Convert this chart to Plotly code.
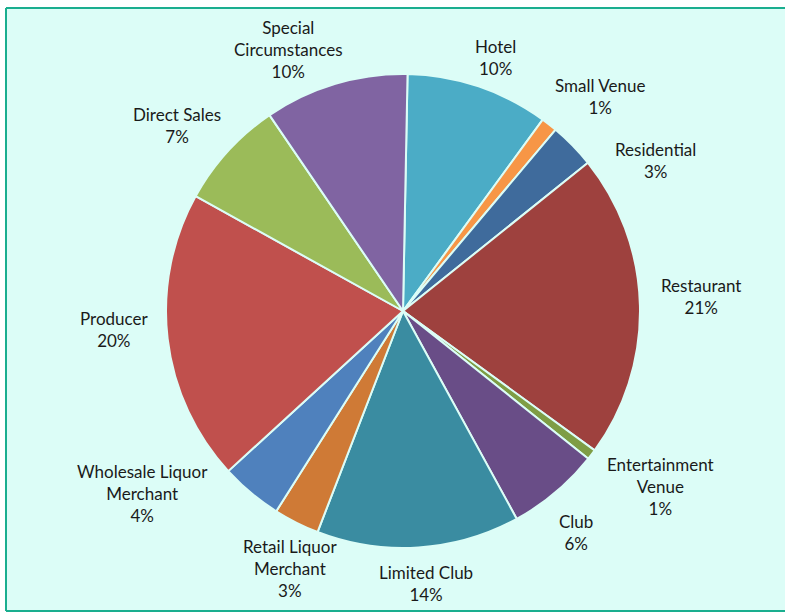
import math
import plotly.graph_objects as go

categories = ["Hotel", "Small Venue", "Residential", "Restaurant", "Entertainment Venue",
              "Club", "Limited Club", "Retail Liquor Merchant", "Wholesale Liquor Merchant",
              "Producer", "Direct Sales", "Special Circumstances"]
values = [9.7, 1.1, 3.1, 20.7, 0.7, 6.3, 13.8, 3.1, 4.2, 19.8, 7.4, 9.8]
label_lines = ["Hotel", "Small Venue", "Residential", "Restaurant", "Entertainment<br>Venue",
               "Club", "Limited Club", "Retail Liquor<br>Merchant", "Wholesale Liquor<br>Merchant",
               "Producer", "Direct Sales", "Special<br>Circumstances"]
colors = ["#4BACC6", "#F79646", "#3F6B9C", "#9E413E", "#7E9D45", "#694D87",
          "#3A8CA1", "#CF7A36", "#4F81BD", "#C0504D", "#9BBB59", "#8064A2"]

W, H = 785, 614
BG = "#DCFDF7"
EDGE = "#1AAE8F"
cx, cy, R = 403, 311, 237
rotation = 1.1

# label placement (angle nudge in degrees, distance from centre in px)
nudges = [1.5, 4.5, 13.5, -1.5, -3, 2, -1, -3, 15, 3, -3, -7]
dists = [270, 291, 294, 298, 312, 281, 273, 281, 318, 290, 292, 285]

total = sum(values)
fig = go.Figure()
fig.add_trace(go.Pie(
    labels=categories, values=values, sort=False, direction="clockwise",
    rotation=rotation, textinfo="none", hoverinfo="label+percent",
    marker=dict(colors=colors, line=dict(color=BG, width=2)),
    domain=dict(x=[(cx - R) / W, (cx + R) / W], y=[1 - (cy + R) / H, 1 - (cy - R) / H]),
    showlegend=False,
))

annotations = []
cum = 0.0
for name, v, nd, d in zip(label_lines, values, nudges, dists):
    mid = rotation + (cum + v / 2) / total * 360 + nd
    cum += v
    a = math.radians(mid)
    px = cx + d * math.sin(a)
    py = cy - d * math.cos(a)
    pct = round(v / total * 100)
    annotations.append(dict(
        x=px / W, y=1 - py / H, xref="paper", yref="paper",
        text=f"{name}<br>{pct}%", showarrow=False, xanchor="center", yanchor="middle",
        font=dict(family="Lato, Open Sans, sans-serif", size=17, color="#1a1a1a"),
    ))

x0, y0, y1 = 6 / W, 1 - 611 / H, 1 - 8 / H
fig.update_layout(
    width=W, height=H, margin=dict(l=0, r=0, t=0, b=0),
    paper_bgcolor="white", plot_bgcolor="white",
    annotations=annotations,
    shapes=[
        dict(type="rect", xref="paper", yref="paper", layer="below",
             x0=x0, x1=1.0, y0=y0, y1=y1, fillcolor=BG, line=dict(width=0)),
        dict(type="line", xref="paper", yref="paper", layer="below",
             x0=x0, x1=x0, y0=y0, y1=y1, line=dict(color=EDGE, width=2)),
        dict(type="line", xref="paper", yref="paper", layer="below",
             x0=x0, x1=1.0, y0=y1, y1=y1, line=dict(color=EDGE, width=2)),
        dict(type="line", xref="paper", yref="paper", layer="below",
             x0=x0, x1=1.0, y0=y0, y1=y0, line=dict(color=EDGE, width=2)),
    ],
)
fig.write_html("out.html", config={"displayModeBar": False},
               post_script="document.body.style.margin='0';document.body.style.overflow='hidden';")
